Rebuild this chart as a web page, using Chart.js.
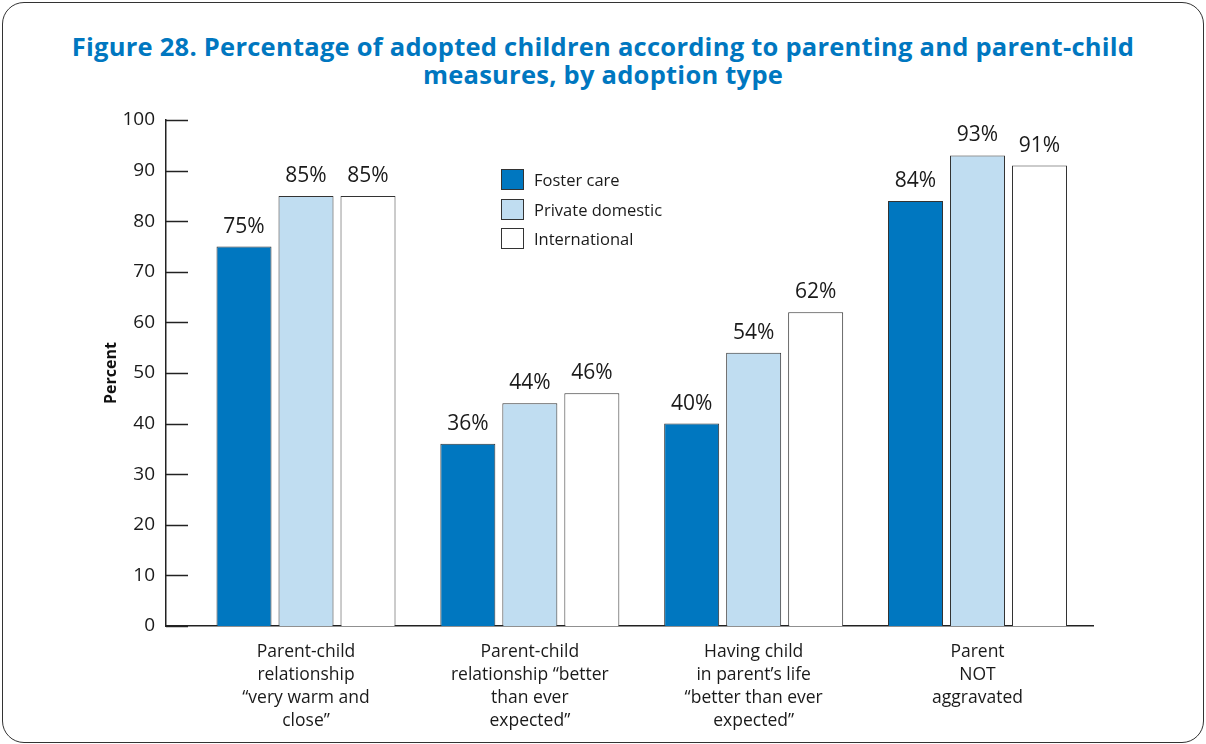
<!DOCTYPE html>
<html lang="en">
<head>
    <meta charset="UTF-8">
    <title>Figure 28. Adopted children, parenting and parent-child measures</title>
    <script src="https://cdn.jsdelivr.net/npm/chart.js"></script>
    <style>
        body { margin: 0; width: 1206px; height: 744px; overflow: hidden; background: white; font-family: "Open Sans", sans-serif; color: #1a1a1a; }
        .frame { position: absolute; left: 2px; top: 2px; width: 1202px; height: 741px; box-sizing: border-box; border: 1.5px solid #333; border-radius: 22px; }
        .title { position: absolute; left: 0; top: 32px; width: 1206px; text-align: center; font-size: 25.5px; line-height: 28px; letter-spacing: 0.25px; font-weight: 700; color: #0077c0; }
        #chartBox { position: absolute; left: 0; top: 0; width: 1206px; height: 744px; }
        .legend { position: absolute; left: 501px; top: 169px; font-size: 16.5px; }
        .legend div { height: 29.5px; display: flex; align-items: flex-start; }
        .legend span.box { display: inline-block; width: 21px; height: 19px; border: 1px solid #333; margin-right: 10px; }
        .legend span.txt { line-height: 21px; }
    </style>
</head>
<body>
    <div class="frame"></div>
    <div class="title">Figure 28. Percentage of adopted children according to parenting and parent-child<br>measures, by adoption type</div>
    <div id="chartBox"><canvas id="adoptionChart" width="1206" height="744"></canvas></div>
    <div class="legend" id="legend"></div>

    <script>
        const categories = [
            ['Parent-child', 'relationship', '\u201cvery warm and', 'close\u201d'],
            ['Parent-child', 'relationship \u201cbetter', 'than ever', 'expected\u201d'],
            ['Having child', 'in parent\u2019s life', '\u201cbetter than ever', 'expected\u201d'],
            ['Parent', 'NOT', 'aggravated']
        ];
        const seriesNames = ['Foster care', 'Private domestic', 'International'];
        const fosterCare = [75, 36, 40, 84];
        const privateDomestic = [85, 44, 54, 93];
        const international = [85, 46, 62, 91];
        const seriesColors = ['#0077c0', '#c0ddf1', '#ffffff'];
        const yTicks = [0, 10, 20, 30, 40, 50, 60, 70, 80, 90, 100];

        const seriesValues = [fosterCare, privateDomestic, international];

        // legend sits inside the plot, built from the series names and colours
        let legend = document.getElementById('legend');
        seriesNames.forEach((name, i) => {
            let row = document.createElement('div');
            row.innerHTML = '<span class="box" style="background:' + seriesColors[i] + '"></span><span class="txt">' + name + '</span>';
            legend.appendChild(row);
        });

        // short tick marks pointing into the plot from the y axis
        const innerTicks = {
            id: 'innerTicks',
            afterDraw(chart) {
                let y = chart.scales.y;
                let ctx = chart.ctx;
                ctx.save();
                ctx.strokeStyle = '#222';
                ctx.lineWidth = 1.5;
                yTicks.forEach(v => {
                    let py = Math.round(y.getPixelForValue(v)) + 0.5;
                    ctx.beginPath();
                    ctx.moveTo(chart.chartArea.left, py);
                    ctx.lineTo(chart.chartArea.left + 22, py);
                    ctx.stroke();
                });
                ctx.restore();
            }
        };

        // percent labels above each bar
        const valueLabels = {
            id: 'valueLabels',
            afterDatasetsDraw(chart) {
                let ctx = chart.ctx;
                ctx.save();
                ctx.font = '21px "Open Sans"';
                ctx.fillStyle = '#1a1a1a';
                ctx.textAlign = 'center';
                ctx.textBaseline = 'alphabetic';
                chart.data.datasets.forEach((ds, i) => {
                    chart.getDatasetMeta(i).data.forEach((bar, j) => {
                        ctx.fillText(ds.data[j].y + '%', bar.x, bar.y - 14);
                    });
                });
                ctx.restore();
            }
        };

        new Chart(document.getElementById('adoptionChart'), {
            type: 'bar',
            data: {
                datasets: seriesNames.map((name, i) => ({
                    label: name,
                    data: seriesValues[i].map((v, j) => ({ x: j, y: v })),
                    backgroundColor: seriesColors[i],
                    borderColor: '#333',
                    borderWidth: 1,
                    categoryPercentage: 0.831,
                    barPercentage: 0.887
                }))
            },
            options: {
                responsive: false,
                animation: false,
                layout: { padding: { top: 120, right: 113, bottom: 0, left: 0 } },
                plugins: { legend: { display: false }, tooltip: { enabled: false } },
                scales: {
                    x: {
                        type: 'linear',
                        offset: false,
                        min: -0.6255,
                        max: 3.516,
                        grid: { display: false, drawTicks: false, offset: false },
                        border: { display: true, color: '#222', width: 1.5 },
                        afterBuildTicks: (scale) => { scale.ticks = categories.map((c, i) => ({ value: i })); },
                        afterFit: (scale) => { scale.height = 118; },
                        ticks: {
                            autoSkip: false,
                            maxRotation: 0,
                            minRotation: 0,
                            padding: 15,
                            color: '#1a1a1a',
                            font: { family: 'Open Sans', size: 17.5, lineHeight: 1.3 },
                            callback: (v) => categories[v]
                        }
                    },
                    y: {
                        min: 0,
                        max: 100,
                        grid: { display: false, drawTicks: false },
                        border: { display: true, color: '#222', width: 1.5 },
                        afterBuildTicks: (scale) => { scale.ticks = yTicks.map(v => ({ value: v })); },
                        afterFit: (scale) => { scale.width = 166; },
                        ticks: {
                            padding: 11,
                            color: '#1a1a1a',
                            font: { family: 'Open Sans', size: 19 }
                        },
                        title: {
                            display: true,
                            text: 'Percent',
                            color: '#111',
                            font: { family: 'Open Sans', size: 16, weight: 'bold' },
                            padding: { top: 102, bottom: 0 }
                        }
                    }
                }
            },
            plugins: [innerTicks, valueLabels]
        });
    </script>
</body>
</html>
